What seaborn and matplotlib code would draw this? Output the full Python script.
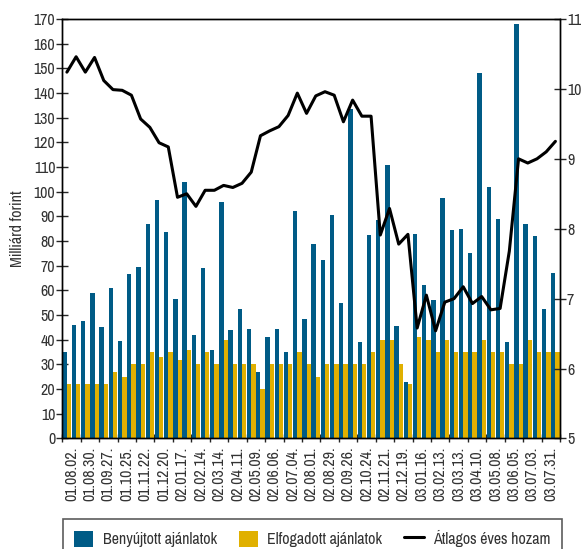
import numpy as np
import pandas as pd
import matplotlib.pyplot as plt
from matplotlib import font_manager
from matplotlib.patches import Patch
from matplotlib.lines import Line2D
import seaborn as sns

# Data (bi-weekly auctions)
date_labels = ["01.08.02.", "01.08.30.", "01.09.27.", "01.10.25.", "01.11.22.", "01.12.20.",
               "02.01.17.", "02.02.14.", "02.03.14.", "02.04.11.", "02.05.09.", "02.06.06.",
               "02.07.04.", "02.08.01.", "02.08.29.", "02.09.26.", "02.10.24.", "02.11.21.",
               "02.12.19.", "03.01.16.", "03.02.13.", "03.03.13.", "03.04.10.", "03.05.08.",
               "03.06.05.", "03.07.03.", "03.07.31."]

submitted = [35, 46, 47.5, 59, 45, 61, 39.5, 66.5, 69.5, 87, 96.5, 83.5, 56.5, 104, 42, 69, 36, 96, 44,
             52.5, 44.5, 27, 41, 44.5, 35, 92, 48.5, 79, 72.5, 90.5, 55, 133.5, 39, 82.5, 88.5, 111, 45.5,
             23, 83, 62, 56, 97.5, 84.5, 85, 75, 148, 102, 89, 39, 168, 87, 82, 52.5, 67]

accepted = [22, 22, 22, 22, 22, 27, 25, 30, 30, 35, 33, 35, 32, 36, 30, 35, 30, 40, 30,
            30, 30, 20, 30, 30, 30, 35, 30, 25, 30, 30, 30, 30, 30, 35, 40, 40, 30,
            22, 41, 40, 35, 40, 35, 35, 35, 40, 35, 35, 30, 30, 40, 35, 35, 35]

avg_yield = [10.24, 10.46, 10.24, 10.45, 10.12, 9.99, 9.98, 9.91, 9.57, 9.45, 9.23, 9.17, 8.45,
             8.50, 8.32, 8.55, 8.55, 8.62, 8.59, 8.65, 8.81, 9.33, 9.40, 9.46, 9.62, 9.94, 9.65,
             9.90, 9.96, 9.91, 9.53, 9.84, 9.61, 9.61, 7.91, 8.29, 7.78, 7.92, 6.58, 7.05, 6.54,
             6.95, 7.00, 7.17, 6.93, 7.03, 6.84, 6.86, 7.68, 9.00, 8.94, 9.00, 9.10, 9.25]

series_names = ["Benyújtott ajánlatok", "Elfogadott ajánlatok", "Átlagos éves hozam"]
blue = "#005b86"
yellow = "#e0b000"
text_col = "#333333"

n = len(submitted)
df = pd.DataFrame({
    "idx": list(range(n)) * 2,
    "value": submitted + accepted,
    "series": [series_names[0]] * n + [series_names[1]] * n,
})

# pick a condensed face if the system has one, otherwise a narrow-ish sans
installed = {f.name for f in font_manager.fontManager.ttflist}
narrow = [f for f in installed if "Narrow" in f or "Condensed" in f]
if narrow:
    main_font, fs = sorted(narrow)[0], 11.5
else:
    main_font, fs = "Liberation Sans", 8.8

sns.set_style("ticks")
plt.rcParams["font.family"] = [main_font, "DejaVu Sans"]
plt.rcParams["font.size"] = fs

fig = plt.figure(figsize=(5.81, 5.49), dpi=100)
ax = fig.add_axes([0.1072, 0.2013, 0.8567, 0.7641])

sns.barplot(data=df, x="idx", y="value", hue="series", ax=ax,
            palette=[blue, yellow], width=0.94, linewidth=0, saturation=1,
            legend=False)

ax2 = ax.twinx()
sns.lineplot(x=np.arange(n), y=avg_yield, ax=ax2, color="black", linewidth=2.2)

ax.set_xlim(-0.5, n - 0.5)
ax.set_ylim(0, 170)
ax.set_yticks(np.arange(0, 171, 10))
ax2.set_ylim(5, 11)
ax2.set_yticks(np.arange(5, 12, 1))

# ticks between every second category, labels centred under each pair
ax.set_xticks(np.arange(-0.5, n, 2))
ax.set_xticklabels([])
ax.set_xticks(np.arange(0.5, n, 2), minor=True)
ax.set_xticklabels(date_labels, minor=True, rotation=90)
ax.tick_params(axis="x", which="minor", length=0, pad=6, labelsize=fs, labelcolor=text_col)
ax.tick_params(axis="x", which="major", direction="inout", length=6, width=1)
ax.tick_params(axis="y", direction="inout", length=8, width=1, pad=1, labelcolor=text_col)
ax2.tick_params(axis="y", direction="inout", length=8, width=1, pad=1, labelcolor=text_col)

ax.set_xlabel("")
ax.set_ylabel("Milliárd forint", color=text_col, labelpad=6)
ax2.set_ylabel("")

for a in (ax, ax2):
    for s in a.spines.values():
        s.set_visible(True)
        s.set_linewidth(1)
        s.set_color("black")

handles = [Patch(facecolor=blue, edgecolor="none"),
           Patch(facecolor=yellow, edgecolor="none"),
           Line2D([0], [0], color="black", linewidth=2.2)]
leg = fig.legend(handles, series_names, loc="upper left",
                 bbox_to_anchor=(0.108, 0.0546, 0.859, 0), mode="expand", ncol=3,
                 frameon=True, fancybox=False, edgecolor=text_col, borderpad=0.7,
                 borderaxespad=0, handlelength=1.2, handleheight=1.2, handletextpad=0.6,
                 columnspacing=1.5, fontsize=fs)
leg.get_frame().set_linewidth(1.2)
for t in leg.get_texts():
    t.set_color(text_col)

fig.savefig("out.png", dpi=100)
